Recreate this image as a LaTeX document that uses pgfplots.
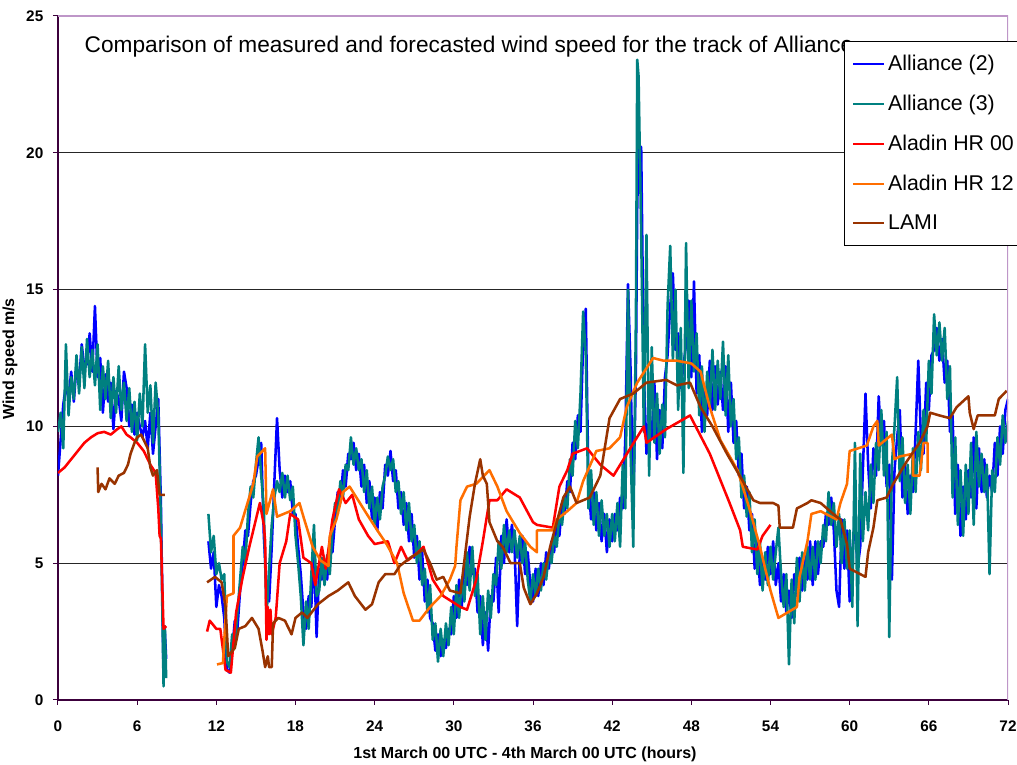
\documentclass[border=0pt]{standalone}
\usepackage{fontspec}
\setmainfont{Liberation Sans}
\usepackage{pgfplots}
\pgfplotsset{compat=1.18}
\usepackage{pgfplotstable}
\usetikzlibrary{calc}

\definecolor{cblue}{RGB}{0,0,255}
\definecolor{cteal}{RGB}{0,128,128}
\definecolor{cred}{RGB}{255,0,0}
\definecolor{corange}{RGB}{255,110,0}
\definecolor{cbrown}{RGB}{153,51,0}
\definecolor{axisc}{RGB}{60,0,60}
\definecolor{framec}{RGB}{190,150,200}

% measured wind speed: h = hours from 1st March 00 UTC
\pgfplotstableread{
h a3 a2
0.0 9.8 8.2
0.2 10.5 9.5
0.4 9.2 10.8
0.6 13.0 11.5
0.8 10.4 11.0
1.0 11.8 12.0
1.2 11.0 10.9
1.4 12.6 12.2
1.6 11.2 11.6
1.8 12.9 13.0
2.0 11.4 12.1
2.2 13.2 12.3
2.4 11.8 13.4
2.6 12.8 12.0
2.8 11.5 14.4
3.0 13.0 11.8
3.2 10.6 12.5
3.4 12.2 10.5
3.6 11.0 11.9
3.8 12.4 10.9
4.0 10.3 11.6
4.2 11.8 9.9
4.4 10.5 11.3
4.6 12.2 11.0
4.8 10.6 10.2
5.0 11.6 12.0
5.2 10.2 11.4
5.4 11.4 10.0
5.6 9.8 10.8
5.8 10.9 9.7
6.0 9.5 10.5
6.2 11.2 10.0
6.4 10.0 9.6
6.6 13.0 10.2
6.8 10.5 9.2
7.0 11.5 10.5
7.2 9.4 9.0
7.4 11.6 10.0
7.6 10.4 11.0
7.8 6.5 7.2
8.0 0.5 0.8
8.1 2.7 2.5
8.2 0.8 1.5
9.0 nan nan
11.4 6.8 5.8
11.6 5.4 4.8
11.8 6.0 5.4
12.0 4.6 3.4
12.2 5.0 4.2
12.4 4.4 3.8
12.6 4.6 3.0
12.8 1.4 1.1
13.0 1.2 1.0
13.2 2.4 1.8
13.4 2.0 2.9
13.6 3.2 2.6
13.8 4.4 4.0
14.0 5.6 5.0
14.2 5.0 6.2
14.4 6.8 6.0
14.6 7.8 7.2
14.8 7.4 8.0
15.0 8.6 8.2
15.2 9.6 8.8
15.4 8.2 9.4
15.6 7.0 6.0
15.8 3.0 4.2
16.0 4.8 3.6
16.2 6.4 5.6
16.4 7.4 8.0
16.6 8.0 10.3
16.8 7.6 8.4
17.0 8.3 7.4
17.2 7.4 8.2
17.4 8.2 7.6
17.6 7.3 8.0
17.8 7.8 6.8
18.0 6.0 6.8
18.2 5.0 5.6
18.4 3.8 4.6
18.6 2.0 3.2
18.8 3.6 2.6
19.0 2.6 3.8
19.2 4.6 3.4
19.4 6.4 5.4
19.6 3.8 2.3
19.8 4.0 4.8
20.0 5.2 4.4
20.2 4.2 5.0
20.4 5.3 4.4
20.6 4.6 5.8
20.8 6.2 5.4
21.0 7.2 6.6
21.2 6.8 7.6
21.4 8.0 7.2
21.6 7.4 8.4
21.8 8.6 7.8
22.0 8.4 9.0
22.2 9.6 8.8
22.4 8.6 9.4
22.6 9.2 8.4
22.8 8.4 9.0
23.0 8.8 7.8
23.2 7.6 8.6
23.4 8.4 7.2
23.6 7.0 8.0
23.8 7.8 6.6
24.0 6.4 7.4
24.2 7.4 6.2
24.4 6.6 7.6
24.6 7.8 7.0
24.8 8.2 8.6
25.0 8.9 8.2
25.2 8.4 9.1
25.4 8.8 8.0
25.6 7.6 8.4
25.8 8.0 7.0
26.0 6.8 7.6
26.2 7.6 6.4
26.4 6.2 7.2
26.6 7.2 5.8
26.8 5.8 6.8
27.0 6.4 5.2
27.2 5.0 6.0
27.4 5.8 4.4
27.6 4.2 5.4
27.8 4.8 3.6
28.0 3.2 4.4
28.2 4.2 3.0
28.4 2.2 2.8
28.6 2.8 1.8
28.8 1.4 2.4
29.0 2.6 1.6
29.2 1.6 2.2
29.4 2.8 1.9
29.6 2.0 2.6
29.8 3.4 2.4
30.0 2.4 3.8
30.2 4.2 3.0
30.4 3.0 4.4
30.6 4.4 3.4
30.8 3.6 5.0
31.0 5.4 4.2
31.2 4.0 5.6
31.4 5.6 4.6
31.6 3.8 4.8
31.8 4.6 3.2
32.0 2.4 3.8
32.2 3.8 2.0
32.4 2.2 3.2
32.6 4.0 1.8
32.8 3.0 3.8
33.0 4.6 3.6
33.2 4.2 5.2
33.4 5.8 3.2
33.6 4.8 6.0
33.8 6.4 5.0
34.0 5.4 6.6
34.2 6.2 5.4
34.4 5.4 6.4
34.6 6.2 5.6
34.8 5.2 2.7
35.0 6.0 5.4
35.2 5.0 6.0
35.4 5.8 4.6
35.6 4.4 5.4
35.8 3.6 4.2
36.0 4.6 3.6
36.2 3.8 4.8
36.4 4.8 3.8
36.6 4.0 5.0
36.8 5.0 4.2
37.0 4.4 5.4
37.2 5.4 4.8
37.4 5.0 5.8
37.6 6.0 5.4
37.8 5.6 6.6
38.0 6.8 6.0
38.2 6.4 7.2
38.4 7.4 6.8
38.6 7.0 8.0
38.8 8.8 7.6
39.0 8.2 9.4
39.2 10.2 8.8
39.4 9.2 10.4
39.6 11.2 9.8
39.8 14.2 13.0
40.0 12.6 14.3
40.2 7.0 8.0
40.4 8.4 6.6
40.6 6.4 7.6
40.8 7.6 6.2
41.0 6.0 7.2
41.2 7.3 5.8
41.4 6.0 6.8
41.6 6.8 5.4
41.8 5.6 6.6
42.0 6.8 5.8
42.2 5.8 6.8
42.4 7.2 6.2
42.6 5.6 7.4
42.8 8.6 7.0
43.0 7.0 9.6
43.2 15.0 15.2
43.4 9.0 12.0
43.6 5.6 7.0
43.8 14.0 12.0
43.9 23.4 18.0
44.0 22.8 20.3
44.2 17.0 20.2
44.4 9.8 12.0
44.6 17.0 9.0
44.8 8.2 10.4
45.0 12.9 9.6
45.2 9.4 11.6
45.4 11.2 8.8
45.6 9.0 10.6
45.8 10.8 9.2
46.0 9.6 11.8
46.2 14.4 12.6
46.4 16.6 14.4
46.6 12.4 15.6
46.8 15.0 12.8
47.0 10.6 13.4
47.2 13.6 11.4
47.4 8.3 12.2
47.6 16.7 13.0
47.8 11.4 14.6
48.0 14.6 11.8
48.2 12.0 15.3
48.4 13.4 11.2
48.6 10.4 12.6
48.8 12.2 9.8
49.0 9.8 11.4
49.2 12.0 10.4
49.4 10.7 12.4
49.6 12.8 10.6
49.8 10.6 12.2
50.0 12.4 10.8
50.2 11.0 12.0
50.4 13.1 10.6
50.6 10.4 12.2
50.8 12.6 9.8
51.0 10.0 11.6
51.2 11.0 9.4
51.4 8.8 10.2
51.6 9.6 8.2
51.8 7.4 9.0
52.0 8.2 7.0
52.2 6.7 7.8
52.4 7.6 6.2
52.6 5.4 6.8
52.8 6.6 4.8
53.0 4.6 5.8
53.2 5.8 4.2
53.4 4.0 5.2
53.6 5.4 4.4
53.8 4.2 5.6
54.0 5.6 4.6
54.2 4.4 5.8
54.4 5.4 4.2
54.6 6.3 5.0
54.8 4.6 3.6
55.0 3.4 4.6
55.2 4.6 3.2
55.4 1.3 4.0
55.6 4.4 3.0
55.8 2.8 4.6
56.0 5.2 3.8
56.2 3.6 5.2
56.4 5.4 4.0
56.6 4.0 5.4
56.8 5.6 4.4
57.0 4.4 5.8
57.2 5.6 4.2
57.4 4.4 5.8
57.6 5.8 4.6
57.8 5.0 5.8
58.0 6.4 5.6
58.2 5.8 6.8
58.4 7.6 6.4
58.6 6.4 7.4
58.8 7.2 6.2
59.0 5.6 4.0
59.2 6.8 3.4
59.4 5.0 6.6
59.6 6.6 4.8
59.8 4.8 6.2
60.0 6.2 3.6
60.2 3.4 5.4
60.4 9.4 6.6
60.6 2.7 4.8
60.8 9.0 5.6
61.0 5.8 8.4
61.2 7.6 11.2
61.4 6.2 8.6
61.6 8.6 7.0
61.8 7.2 9.2
62.0 9.4 8.2
62.2 8.4 11.1
62.4 10.6 9.4
62.6 8.2 10.2
62.8 9.8 7.8
63.0 2.3 8.6
63.2 8.6 4.4
63.4 10.0 8.4
63.6 11.8 9.6
63.8 8.0 10.6
64.0 9.6 7.4
64.2 7.2 8.6
64.4 8.6 6.8
64.6 6.8 8.2
64.8 9.2 7.6
65.0 7.6 9.8
65.2 9.8 12.4
65.4 8.4 9.6
65.6 10.6 9.0
65.8 9.4 11.6
66.0 12.4 10.6
66.2 11.2 12.6
66.4 14.1 12.8
66.6 12.6 13.6
66.8 13.8 12.4
67.0 12.4 13.2
67.2 13.6 11.6
67.4 11.0 12.4
67.6 12.2 9.8
67.8 7.4 10.4
68.0 9.6 6.8
68.2 6.4 8.6
68.4 8.4 6.0
68.6 6.0 7.8
68.8 8.6 6.6
69.0 6.8 8.4
69.2 9.4 7.4
69.4 6.4 9.6
69.6 9.8 7.0
69.8 7.8 9.2
70.0 9.0 7.6
70.2 7.6 8.8
70.4 8.6 7.4
70.6 4.6 8.2
70.8 8.4 7.6
71.0 7.6 9.4
71.2 9.6 8.2
71.4 8.6 10.0
71.6 10.4 9.0
71.8 9.4 10.6
72.0 10.2 11.0
}\meas

% Aladin HR 00
\pgfplotstableread{
h v
0 8.3
0.5 8.5
1.0 8.8
1.5 9.1
2.0 9.4
2.5 9.6
3.0 9.75
3.5 9.8
4.0 9.7
4.5 9.9
4.8 10.0
5.2 9.7
5.5 9.6
6.0 9.4
6.5 9.1
7.0 8.6
7.4 8.3
7.6 7.0
7.7 6.0
7.8 5.9
8.0 2.6
8.2 2.7
9 nan
11.3 2.5
11.5 2.9
12.0 2.6
12.3 2.6
12.7 1.1
13.1 1.0
13.5 3.2
14.0 4.5
14.5 5.6
15.0 6.6
15.3 7.2
15.6 6.4
15.7 5.8
15.8 2.2
15.9 3.4
16.0 2.4
16.1 3.3
16.2 2.4
16.5 3.0
16.8 5.0
17.3 5.8
17.6 6.8
18.2 6.6
18.6 5.2
19.2 5.0
19.5 4.2
20.0 5.6
20.3 4.8
20.8 6.6
21.3 7.7
21.8 7.2
22.3 7.5
22.8 6.6
23.5 6.0
24.0 5.7
25.0 5.8
25.5 5.0
26.0 5.6
26.5 5.1
27.3 5.4
27.7 5.6
28.4 4.4
29.2 3.8
30.5 3.4
31.0 3.3
31.7 4.4
32.2 5.8
32.7 7.3
33.3 7.3
34.0 7.7
35.0 7.4
36.0 6.5
36.3 6.4
37.5 6.3
38.0 7.8
38.6 8.4
39.0 9.0
40.1 9.2
41.1 8.6
42.1 8.2
43.5 9.3
44.4 10.0
44.6 9.4
46.1 9.9
47.9 10.4
49.4 9.0
50.9 7.2
51.7 6.2
51.9 5.6
53.0 5.5
53.4 6.0
54.0 6.4
}\redd

% Aladin HR 12
\pgfplotstableread{
h v
12.05 1.3
12.5 1.35
12.8 3.8
13.3 3.9
13.3 6.0
13.8 6.3
14.3 7.1
14.8 7.9
15.1 8.9
15.7 9.2
15.8 6.8
16.3 7.7
16.6 6.7
17.6 6.9
18.3 7.2
18.6 6.7
19.3 5.6
19.9 5.1
20.5 4.9
20.6 6.0
21.1 6.6
21.6 7.6
22.1 7.8
23.4 6.8
24.2 6.2
24.9 5.7
25.7 5.0
26.2 3.9
26.9 2.9
27.4 2.9
28.2 3.4
29.0 3.8
29.7 4.4
30.1 4.9
30.2 5.6
30.5 7.3
31.0 7.8
31.7 7.9
32.7 8.4
33.3 7.8
34.0 6.9
35.0 6.1
35.8 5.6
36.3 5.4
36.3 6.2
37.5 6.2
37.8 6.6
38.6 6.9
39.3 7.2
39.8 8.0
40.8 9.1
41.8 9.2
42.6 9.6
43.1 10.7
43.9 11.6
45.1 12.5
45.9 12.4
46.9 12.4
48.0 12.3
48.7 12.0
49.4 10.7
50.2 9.5
51.5 8.4
52.4 7.0
53.2 5.6
54.0 4.0
54.6 3.0
56.0 3.4
56.2 4.5
56.8 5.8
57.1 6.8
57.8 6.9
59.0 6.6
59.3 7.2
59.8 7.9
60.0 9.1
61.3 9.3
61.8 10.0
62.1 10.2
62.2 9.3
63.2 9.7
63.4 8.8
63.8 8.9
64.8 9.0
64.8 8.2
65.3 8.2
65.6 9.4
65.9 9.4
65.9 8.3
}\orng

% LAMI
\pgfplotstableread{
h v
3.0 8.5
3.05 7.6
3.3 7.9
3.6 7.7
3.9 8.1
4.3 7.9
4.6 8.2
5.0 8.3
5.3 8.6
5.5 9.0
5.8 9.4
6.0 9.6
6.3 9.7
6.6 9.4
6.8 9.2
7.0 8.5
7.2 8.2
7.5 8.4
7.7 7.5
8.1 7.5
9 nan
11.3 4.3
11.9 4.5
12.4 4.3
12.7 3.4
12.9 1.6
13.4 1.9
13.7 2.6
14.2 2.7
14.7 3.0
15.2 2.6
15.5 1.8
15.7 1.2
15.9 1.6
16.0 1.2
16.2 1.2
16.3 2.8
16.7 3.0
17.2 2.9
17.7 2.4
18.0 3.0
18.5 3.2
18.9 3.0
19.7 3.5
20.5 3.8
21.2 4.0
22.0 4.3
22.5 3.8
23.3 3.3
23.8 3.5
24.3 4.3
24.8 4.6
25.5 4.6
25.9 4.9
26.7 5.2
27.7 5.5
28.2 5.0
28.7 4.4
29.2 4.5
29.7 4.0
30.5 3.9
30.7 4.7
31.2 6.7
31.6 7.9
32.0 8.8
32.2 8.2
32.5 7.9
32.7 6.5
33.3 5.8
33.7 5.6
34.3 5.0
35.0 5.0
35.3 4.1
35.8 3.5
36.3 3.9
36.8 4.5
37.3 5.6
37.8 6.5
38.3 7.4
38.8 7.8
39.3 7.2
40.3 7.4
41.1 8.2
41.8 10.3
42.6 11.0
43.6 11.2
44.6 11.6
46.1 11.7
46.9 11.5
47.9 11.6
48.7 10.7
49.6 10.0
50.7 9.0
51.9 8.0
52.7 7.3
53.2 7.2
54.2 7.2
54.6 7.1
54.7 6.3
55.7 6.3
56.0 7.0
56.8 7.2
57.1 7.3
57.8 7.2
59.0 6.7
59.3 6.6
59.8 5.7
60.0 4.8
61.2 4.5
61.4 5.4
61.8 6.3
62.1 7.3
62.8 7.4
63.3 7.9
64.3 8.7
65.3 9.4
65.9 10.0
66.1 10.5
66.8 10.4
67.6 10.3
68.1 10.7
69.0 11.1
69.1 10.5
69.4 9.9
69.7 10.4
71.0 10.4
71.3 11.0
71.9 11.3
}\lami

\begin{document}
\begin{tikzpicture}
\begin{axis}[
  scale only axis, width=712.5pt, height=513pt,
  xmin=0, xmax=72, ymin=0, ymax=25,
  xtick={0,6,...,72}, ytick={0,5,...,25},
  axis lines=left, axis line style={-, color=axisc, line width=0.9pt},
  tick align=outside, major tick length=3.75pt,
  tick style={color=axisc, line width=0.75pt},
  ymajorgrids, grid style={black!85, line width=0.9pt},
  /pgf/number format/assume math mode=true,
  tick label style={font=\fontsize{11.5}{13}\selectfont\bfseries},
  xticklabel style={yshift=-8.5pt},
  yticklabel style={xshift=-3.75pt},
  xlabel={1st March 00 UTC - 4th March 00 UTC (hours)},
  ylabel={Wind speed m/s},
  label style={font=\fontsize{12}{14}\selectfont\bfseries},
  xlabel style={at={(axis description cs:0.4916,-0.08)}, anchor=center},
  ylabel style={at={(axis description cs:-0.0505,0.4985)}, anchor=center},
  unbounded coords=jump, no markers,
  every axis plot/.append style={line width=1.9pt, line join=round},
  legend cell align=left,
  legend image code/.code={\draw[#1, line width=1.5pt] (0pt,0pt) -- (23pt,0pt);},
  legend style={at={(rel axis cs:0.827,0.964)}, anchor=north west,
    draw=black, line width=0.75pt, fill=white,
    font=\fontsize{16}{19}\selectfont,
    inner xsep=6pt, inner ysep=8.5pt, row sep=12.9pt,
    /tikz/every odd column/.append style={column sep=0.5pt}},
]
\addplot[color=cblue] table[x=h, y=a2] {\meas};
\addplot[color=cteal] table[x=h, y=a3] {\meas};
\addplot[color=cred] table[x=h, y=v] {\redd};
\addplot[color=corange] table[x=h, y=v] {\orng};
\addplot[color=cbrown] table[x=h, y=v] {\lami};
\legend{Alliance (2), Alliance (3), Aladin HR 00, Aladin HR 12, LAMI}
\draw[color=framec, line width=0.9pt] (rel axis cs:0,1) -- (rel axis cs:1,1) -- (rel axis cs:1,0);
\node[anchor=west, font=\fontsize{17}{20}\selectfont] at (rel axis cs:0.0232,0.9547)
  {Comparison of measured and forecasted wind speed for the track of Alliance};
\coordinate (ll) at (rel axis cs:0,0);
\coordinate (ur) at (rel axis cs:1,1);
\end{axis}
\pgfresetboundingbox
\useasboundingbox ($(ll)+(-43.5pt,-48.75pt)$) rectangle ($(ur)+(6.75pt,12pt)$);
\end{tikzpicture}
\end{document}
